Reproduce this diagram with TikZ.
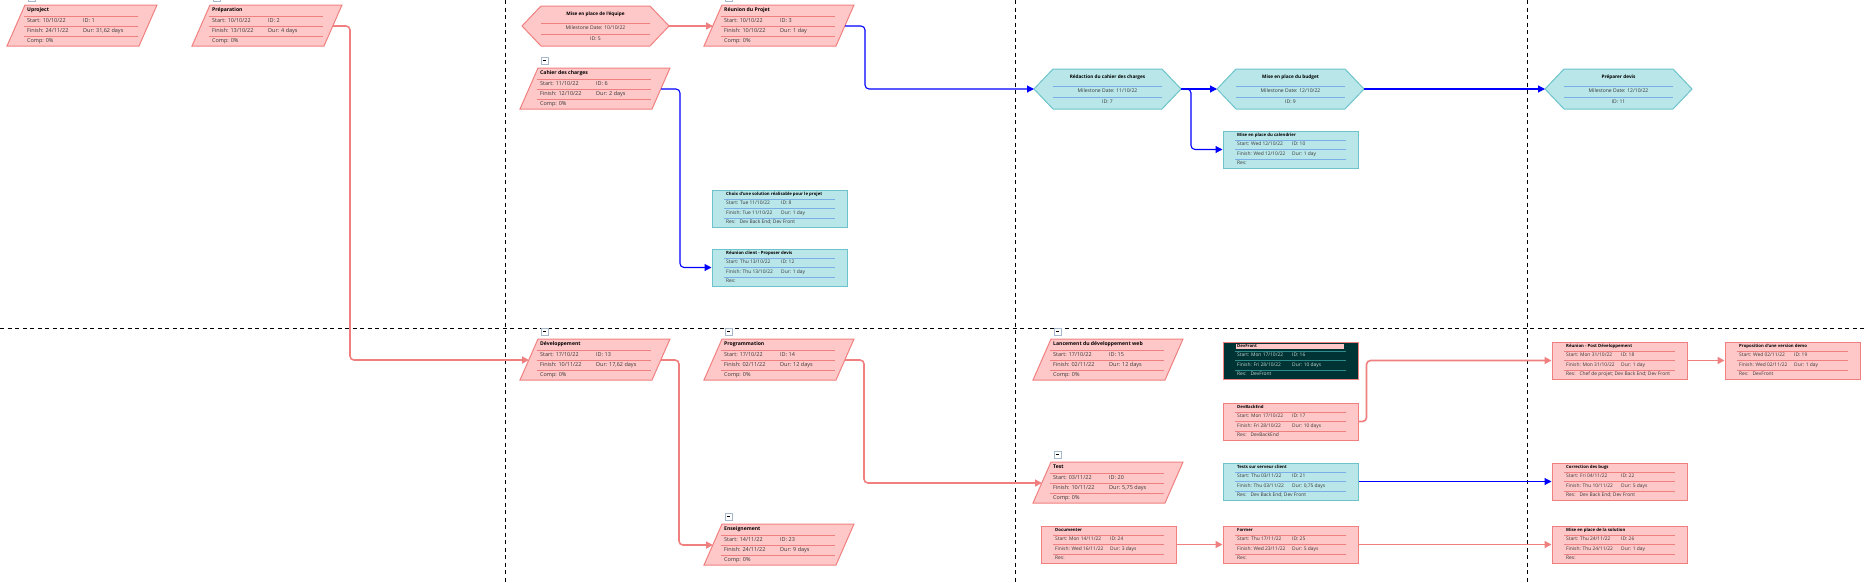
\documentclass[tikz,border=0pt]{standalone}
\usepackage{fontspec}
\setmainfont{Open Sans}
\usetikzlibrary{arrows.meta}
\definecolor{pinkfill}{HTML}{FFC8C8}
\definecolor{pinkline}{HTML}{F08080}
\definecolor{cyanfill}{HTML}{B9E6E9}
\definecolor{cyanline}{HTML}{6CC4CA}
\definecolor{cyansep}{HTML}{7AAEE8}
\definecolor{darkfill}{HTML}{003333}
\definecolor{darksep}{HTML}{2E8B8B}
\definecolor{darktext}{HTML}{C8D8D8}
\definecolor{textgray}{HTML}{383838}
\definecolor{collapseline}{HTML}{A6B8CC}
\tikzset{
  pinkR/.style={fill=pinkfill, draw=pinkline, line width=1pt},
  cyanR/.style={fill=cyanfill, draw=cyanline, line width=1pt},
  darkR/.style={fill=darkfill, draw=pinkline, line width=1pt},
  pinkS/.style={draw=pinkline, line width=0.8pt},
  cyanS/.style={draw=cyansep, line width=0.8pt},
  darkS/.style={draw=darksep, line width=0.8pt},
  pinkT/.style={text=textgray},
  cyanT/.style={text=textgray},
  darkT/.style={text=darktext},
  pinkTT/.style={text=black},
  cyanTT/.style={text=black},
  darkTT/.style={fill=pinkfill, text=black, text width=106pt, inner xsep=1pt, inner ysep=0.6pt, xshift=-1pt},
  stitle/.style={font=\fontsize{5.1}{6}\selectfont\bfseries, anchor=west, inner sep=0pt, text height=3.6pt, text depth=1pt},
  srow/.style={font=\fontsize{5.5}{6}\selectfont, anchor=west, inner sep=0pt, text=textgray, text height=3.6pt, text depth=1pt},
  mtitle/.style={font=\fontsize{4.7}{6}\selectfont\bfseries, inner sep=0pt, text height=3.4pt, text depth=1pt},
  mrow/.style={font=\fontsize{5.05}{6}\selectfont, inner sep=0pt, text=textgray, text height=3.4pt, text depth=1pt},
  rtitle/.style={font=\fontsize{4.3}{5}\selectfont\bfseries, anchor=west, inner sep=0pt, text height=3.2pt, text depth=1pt},
  rrow/.style={font=\fontsize{4.9}{5}\selectfont, anchor=west, inner sep=0pt, text height=3.2pt, text depth=1pt},
  rect/.style={minimum width=135pt, minimum height=37pt, inner sep=0pt},
  collapse/.style={draw=collapseline, line width=0.6pt, minimum size=7pt, inner sep=0pt,
    path picture={\draw[black, line width=0.7pt] ([xshift=1.6pt]path picture bounding box.west) -- ([xshift=-1.6pt]path picture bounding box.east);}},
  pinkarrow/.style={draw=pinkline, line width=1.6pt, rounded corners=4pt, -{Triangle[length=7pt,width=7pt]}},
  bluearrow/.style={draw=blue, line width=1.1pt, rounded corners=4pt, -{Triangle[length=7pt,width=7pt]}},
  divider/.style={draw=black, line width=0.9pt, dash pattern=on 4pt off 3.5pt},
}
% summary task: name, x0 (bottom-left), y0 (top), title, start, id, finish, dur
\newcommand{\summtask}[8]{%
  \draw[pinkR] (#2+18,#3) -- (#2+150,#3) -- (#2+132,#3+41) -- (#2,#3+41) -- cycle;
  \draw[pinkS] (#2+17,#3+11) -- (#2+131,#3+11) (#2+17,#3+21) -- (#2+131,#3+21) (#2+17,#3+31) -- (#2+131,#3+31);
  \node[stitle] (#1-t) at (#2+20,#3+5.5) {#4};
  \node[srow] (#1-s) at (#2+20,#3+16) {Start: #5};
  \node[srow] (#1-i) at (#2+76,#3+16) {ID: #6};
  \node[srow] (#1-f) at (#2+20,#3+26) {Finish: #7};
  \node[srow] (#1-d) at (#2+76,#3+26) {Dur: #8};
  \node[srow] (#1-c) at (#2+20,#3+36) {Comp: 0\%};
  \node[collapse] (#1-box) at (#2+24.5,#3-7.5) {};
  \coordinate (#1-in) at (#2+9,#3+21);
  \coordinate (#1-out) at (#2+141,#3+21);
}
% milestone: name, xL, yc, prefix, title, date, id
\newcommand{\milestone}[7]{%
  \draw[#4R] (#2,#3) -- (#2+19,#3-20) -- (#2+128,#3-20) -- (#2+147,#3) -- (#2+128,#3+20) -- (#2+19,#3+20) -- cycle;
  \draw[#4S] (#2+19,#3-3) -- (#2+128,#3-3) (#2+19,#3+8) -- (#2+128,#3+8);
  \node[mtitle] (#1-t) at (#2+73.5,#3-12) {#5};
  \node[mrow] (#1-d) at (#2+73.5,#3+2.5) {Milestone Date: #6};
  \node[mrow] (#1-i) at (#2+73.5,#3+13) {ID: #7};
  \coordinate (#1-in) at (#2,#3);
  \coordinate (#1-out) at (#2+147,#3);
}
% resource task box: name, x0, y0, prefix, title
\newcommand{\restask}[5]{%
  \node[#4R, rect] (#1) at (#2+67.5,#3+18.5) {};
  \draw[#4S] (#2+12,#3+9) -- (#2+123,#3+9) (#2+12,#3+18.5) -- (#2+123,#3+18.5) (#2+12,#3+28) -- (#2+123,#3+28);
  \node[rtitle, #4TT] (#1-t) at (#2+14,#3+4.7) {#5};
}
% rows: name, x0, y0, prefix, start, id, finish, dur, res
\newcommand{\resrows}[9]{%
  \node[rrow, #4T] (#1-s) at (#2+14,#3+13.8) {Start: #5};
  \node[rrow, #4T] (#1-i) at (#2+69,#3+13.8) {ID: #6};
  \node[rrow, #4T] (#1-f) at (#2+14,#3+23.2) {Finish: #7};
  \node[rrow, #4T] (#1-d) at (#2+69,#3+23.2) {Dur: #8};
  \node[rrow, #4T] (#1-r) at (#2+14,#3+32.5) {Res:\hspace{4pt}#9};
}
\begin{document}
\begin{tikzpicture}[x=1pt,y=-1pt]
\useasboundingbox (0,0) rectangle (1866,582);
\fill[white] (0,0) rectangle (1866,582);

% dividers
\draw[divider] (505,0) -- (505,582);
\draw[divider] (1015,0) -- (1015,582);
\draw[divider] (1527,0) -- (1527,582);
\draw[divider] (0,328) -- (1866,328);

% summary tasks
\summtask{uproj}{7}{5}{Uproject}{10/10/22}{1}{24/11/22}{31,62 days}
\summtask{prep}{192}{5}{Préparation}{10/10/22}{2}{13/10/22}{4 days}
\summtask{reunionp}{704}{5}{Réunion du Projet}{10/10/22}{3}{10/10/22}{1 day}
\summtask{cahier}{520}{68}{Cahier des charges}{11/10/22}{6}{12/10/22}{2 days}
\summtask{dev}{520}{339}{Développement}{17/10/22}{13}{10/11/22}{17,62 days}
\summtask{prog}{704}{339}{Programmation}{17/10/22}{14}{02/11/22}{12 days}
\summtask{lanc}{1033}{339}{Lancement du développement web}{17/10/22}{15}{02/11/22}{12 days}
\summtask{test}{1033}{462}{Test}{03/11/22}{20}{10/11/22}{5,75 days}
\summtask{enseign}{704}{524}{Enseignement}{14/11/22}{23}{24/11/22}{9 days}

% milestones
\milestone{equipe}{522}{26}{pink}{Mise en place de l'équipe}{10/10/22}{5}
\milestone{redaction}{1034}{89}{cyan}{Rédaction du cahier des charges}{11/10/22}{7}
\milestone{budget}{1217}{89}{cyan}{Mise en place du budget}{12/10/22}{9}
\milestone{preparer}{1545}{89}{cyan}{Préparer devis}{12/10/22}{11}

% resource tasks
\restask{choix}{712}{190}{cyan}{Choix d'une solution réalisable pour le projet}
\resrows{choix}{712}{190}{cyan}{Tue 11/10/22}{8}{Tue 11/10/22}{1 day}{Dev Back End; Dev Front}
\restask{rclient}{712}{249}{cyan}{Réunion client - Proposer devis}
\resrows{rclient}{712}{249}{cyan}{Thu 13/10/22}{12}{Thu 13/10/22}{1 day}{}
\restask{calendrier}{1223}{131}{cyan}{Mise en place du calendrier}
\resrows{calendrier}{1223}{131}{cyan}{Wed 12/10/22}{10}{Wed 12/10/22}{1 day}{}
\restask{devfront}{1223}{342}{dark}{DevFront}
\resrows{devfront}{1223}{342}{dark}{Mon 17/10/22}{16}{Fri 28/10/22}{10 days}{DevFront}
\restask{devback}{1223}{403}{pink}{DevBackEnd}
\resrows{devback}{1223}{403}{pink}{Mon 17/10/22}{17}{Fri 28/10/22}{10 days}{DevBackEnd}
\restask{rpost}{1552}{342}{pink}{Réunion - Post Développement}
\resrows{rpost}{1552}{342}{pink}{Mon 31/10/22}{18}{Mon 31/10/22}{1 day}{Chef de projet; Dev Back End; Dev Front}
\restask{propo}{1725}{342}{pink}{Proposition d'une version demo}
\resrows{propo}{1725}{342}{pink}{Wed 02/11/22}{19}{Wed 02/11/22}{1 day}{DevFront}
\restask{tests}{1223}{463}{cyan}{Tests sur serveur client}
\resrows{tests}{1223}{463}{cyan}{Thu 03/11/22}{21}{Thu 03/11/22}{0,75 days}{Dev Back End; Dev Front}
\restask{correction}{1552}{463}{pink}{Correction des bugs}
\resrows{correction}{1552}{463}{pink}{Fri 04/11/22}{22}{Thu 10/11/22}{5 days}{Dev Back End; Dev Front}
\restask{documenter}{1041}{526}{pink}{Documenter}
\resrows{documenter}{1041}{526}{pink}{Mon 14/11/22}{24}{Wed 16/11/22}{3 days}{}
\restask{former}{1223}{526}{pink}{Former}
\resrows{former}{1223}{526}{pink}{Thu 17/11/22}{25}{Wed 23/11/22}{5 days}{}
\restask{solution}{1552}{526}{pink}{Mise en place de la solution}
\resrows{solution}{1552}{526}{pink}{Thu 24/11/22}{26}{Thu 24/11/22}{1 day}{}

% connectors
\draw[pinkarrow] (equipe-out) -- (reunionp-in);
\draw[bluearrow] (reunionp-out) -- ++(20,0) |- (redaction-in);
\draw[bluearrow] (cahier-out) -- ++(19,0) |- (rclient.west);
\draw[bluearrow] (redaction-out) -- (budget-in);
\draw[bluearrow] (redaction-out) -- ++(10,0) |- (calendrier.west);
\draw[bluearrow] (budget-out) -- (preparer-in);
\draw[pinkarrow] (prep-out) -- ++(17,0) |- (dev-in);
\draw[pinkarrow] (dev-out) -- ++(18,0) |- (enseign-in);
\draw[pinkarrow] (prog-out) -- ++(19,0) |- (test-in);
\draw[pinkarrow] (devback.east) -- ++(8,0) |- (rpost.west);
\draw[pinkarrow] (rpost.east) -- (propo.west);
\draw[bluearrow] (tests.east) -- (correction.west);
\draw[pinkarrow] (documenter.east) -- (former.west);
\draw[pinkarrow] (former.east) -- (solution.west);
\end{tikzpicture}
\end{document}
